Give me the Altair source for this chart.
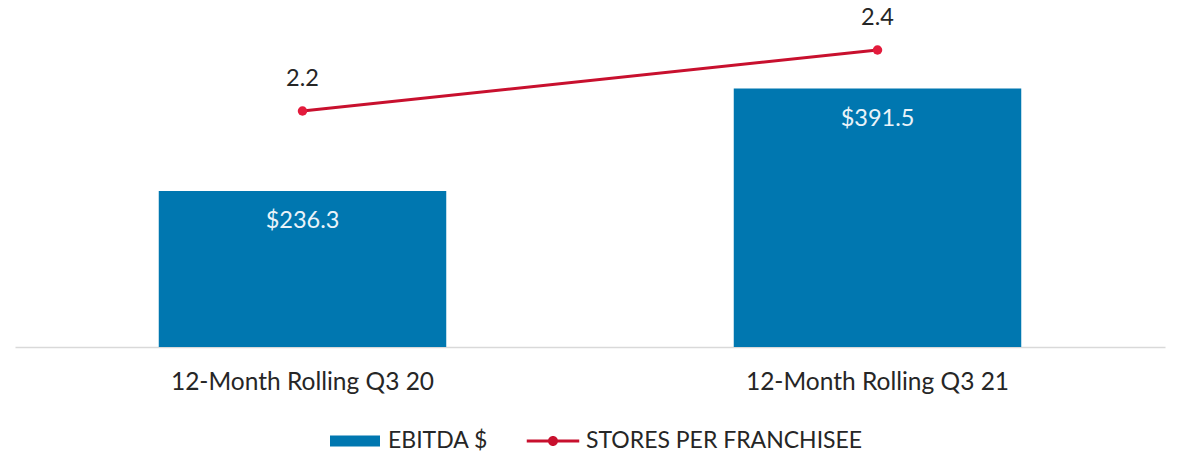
import altair as alt
import pandas as pd

periods = ["12-Month Rolling Q3 20", "12-Month Rolling Q3 21"]
ebitda = [236.3, 391.5]
ebitda_labels = ["$236.3", "$391.5"]
stores = [2.2, 2.4]
stores_labels = ["2.2", "2.4"]
series = ["EBITDA $", "STORES PER FRANCHISEE"]

FONT = "Lato"
BAR_COLOR = "#0077b0"
LINE_COLOR = "#c8102e"
DOT_COLOR = "#e31b3c"

df = pd.DataFrame({
    "period": periods,
    "ebitda": ebitda,
    "ebitda_label": ebitda_labels,
    "stores": stores,
    "stores_label": stores_labels,
})

x_enc = alt.X(
    "period:N",
    sort=periods,
    scale=alt.Scale(paddingInner=0.5, paddingOuter=0.25),
    axis=alt.Axis(
        title=None, labelAngle=0, ticks=False, grid=False,
        domainColor="#d9d9d9", domainWidth=1.5,
        labelFont=FONT, labelFontSize=24.5, labelColor="#262626",
        labelPadding=23, labelLimit=0,
    ),
)

y_bar = alt.Y("ebitda:Q", scale=alt.Scale(domain=[0, 501.4], nice=False), axis=None)
y_line = alt.Y("stores:Q", scale=alt.Scale(domain=[1.426, 2.5115], nice=False, zero=False), axis=None)

base = alt.Chart(df)

bars = base.mark_bar(color=BAR_COLOR).encode(x=x_enc, y=y_bar)
bar_text = base.mark_text(
    font=FONT, fontSize=23.5, color="#eaf3f9", baseline="middle", dy=30
).encode(x=x_enc, y=y_bar, text="ebitda_label:N")

line = base.mark_line(color=LINE_COLOR, strokeWidth=3).encode(x=x_enc, y=y_line)
pts = base.mark_point(filled=True, color=DOT_COLOR, size=90, opacity=1).encode(x=x_enc, y=y_line)
line_text = base.mark_text(
    font=FONT, fontSize=23.5, color="#262626", baseline="middle", dy=-32
).encode(x=x_enc, y=y_line, text="stores_label:N")

rect_path = "M-1,-0.22H1V0.22H-1Z"
line_path = ("M-1.05,-0.06H1.05V0.06H-1.05Z "
             "M0.2,0A0.2,0.2 0 1,1 -0.2,0A0.2,0.2 0 1,1 0.2,0Z")

legend_props = dict(
    title=None, orient="none", legendX=315, legendY=400,
    direction="horizontal", symbolSize=2500, symbolOpacity=1,
    symbolStrokeWidth=0, labelFont=FONT, labelFontSize=23,
    labelColor="#262626", labelOffset=8, columnPadding=37, padding=0,
    labelLimit=0,
)

legend_df = pd.DataFrame({"series": series})
legend_layer = alt.Chart(legend_df).mark_point(filled=True, opacity=0).encode(
    color=alt.Color(
        "series:N",
        scale=alt.Scale(domain=series, range=[BAR_COLOR, LINE_COLOR]),
        legend=alt.Legend(**legend_props),
    ),
    shape=alt.Shape(
        "series:N",
        scale=alt.Scale(domain=series, range=[rect_path, line_path]),
        legend=alt.Legend(**legend_props),
    ),
)

chart = alt.layer(
    alt.layer(bars, bar_text),
    alt.layer(line, pts, line_text),
    legend_layer,
).resolve_scale(y="independent").properties(
    width=1150, height=331,
    autosize=alt.AutoSizeParams(type="none"),
    padding={"left": 7, "top": 8, "right": 5, "bottom": 105},
).configure_view(stroke=None)

chart.save("out.html", embed_options={"renderer": "svg", "actions": False})
